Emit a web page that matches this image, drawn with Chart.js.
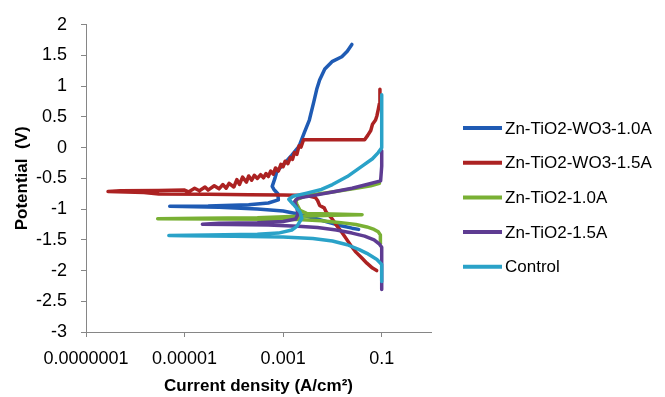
<!DOCTYPE html>
<html>
<head>
<meta charset="utf-8">
<script src="https://cdn.jsdelivr.net/npm/chart.js@4.4.0/dist/chart.umd.min.js"></script>
<style>
  html, body { margin: 0; padding: 0; background: #fff; }
</style>
</head>
<body>
<canvas id="myChart" width="665" height="397"></canvas>
<script>
const seriesNames = ['Zn-TiO2-WO3-1.0A', 'Zn-TiO2-WO3-1.5A', 'Zn-TiO2-1.0A', 'Zn-TiO2-1.5A', 'Control']
const seriesColors = ['#1f5bb4', '#ac2222', '#79b034', '#5e3c92', '#2aa2c8']

// current density (A/cm2) and potential (V) for each sample
const wo3_10Current = [0.034, 0.025, 0.015, 0.008, 0.004, 0.002, 0.001, 0.0003, 0.00005, 0.000005, 0.00003, 0.0002, 0.0005, 0.0008, 0.00078, 0.00065, 0.0006, 0.00068, 0.00075, 0.001, 0.0015, 0.0021, 0.0027, 0.0034, 0.0042, 0.0048, 0.0055, 0.007, 0.0098, 0.0155, 0.02, 0.0248]
const wo3_10Potential = [-1.33, -1.31, -1.27, -1.21, -1.14, -1.08, -1.03, -1.0, -0.97, -0.955, -0.95, -0.93, -0.9, -0.85, -0.75, -0.68, -0.63, -0.5, -0.38, -0.28, -0.12, 0.02, 0.25, 0.45, 0.75, 0.95, 1.1, 1.28, 1.40, 1.48, 1.57, 1.68]

const wo3_15Current = [0.079, 0.065, 0.05, 0.04, 0.03, 0.024, 0.019, 0.015, 0.012, 0.0095, 0.0075, 0.0068, 0.0055, 0.005, 0.0045, 0.003, 0.001, 0.0002, 0.00003, 0.000003, 0.0000015, 0.00000028,
  0.0000005, 0.000003,
  0.00001, 0.000012, 0.000016, 0.00002, 0.000026, 0.00003, 0.00004, 0.00005, 0.00006, 0.00007, 0.00008, 0.0001, 0.000115, 0.00013, 0.00015, 0.00018, 0.0002, 0.00023, 0.00026, 0.0003,
  0.00035, 0.0004, 0.00045, 0.0005, 0.00056, 0.00063, 0.0007, 0.0008, 0.0009, 0.001, 0.0011, 0.00125, 0.0014, 0.00155, 0.0017, 0.0019, 0.0021, 0.0023, 0.0026,
  0.01, 0.045, 0.052, 0.06, 0.065, 0.075, 0.08, 0.085, 0.09, 0.092]
const wo3_15Potential = [-2.0, -1.96, -1.88, -1.8, -1.7, -1.6, -1.48, -1.36, -1.26, -1.14, -1.05, -0.98, -0.94, -0.86, -0.81, -0.78, -0.77, -0.765, -0.76, -0.755, -0.73, -0.715,
  -0.70, -0.695,
  -0.69, -0.72, -0.66, -0.70, -0.64, -0.69, -0.62, -0.67, -0.60, -0.66, -0.58, -0.64, -0.52, -0.60, -0.48, -0.56, -0.46, -0.53, -0.45, -0.50,
  -0.44, -0.49, -0.42, -0.47, -0.38, -0.43, -0.33, -0.38, -0.27, -0.31, -0.22, -0.26, -0.16, -0.19, -0.08, -0.11, 0.03, 0.01, 0.13,
  0.13, 0.13, 0.20, 0.28, 0.38, 0.45, 0.52, 0.62, 0.72, 0.95]

const tio2_10Current = [0.095, 0.094, 0.085, 0.07, 0.05, 0.03, 0.015, 0.006, 0.002, 0.0005, 0.00005, 0.00000285, 0.00002, 0.0003, 0.0015, 0.01, 0.04, 0.01, 0.003, 0.0022, 0.0019, 0.0018, 0.003, 0.01, 0.03, 0.06, 0.09]
const tio2_10Potential = [-1.55, -1.42, -1.37, -1.33, -1.29, -1.25, -1.22, -1.19, -1.17, -1.165, -1.16, -1.155, -1.15, -1.14, -1.12, -1.10, -1.09, -1.08, -1.07, -1.02, -0.92, -0.85, -0.78, -0.72, -0.66, -0.62, -0.58]

const tio2_15Current = [0.1, 0.1, 0.09, 0.07, 0.045, 0.025, 0.012, 0.005, 0.002, 0.0005, 0.00008, 0.000023, 0.00005, 0.0003, 0.001, 0.0018, 0.002, 0.0019, 0.0017, 0.002, 0.004, 0.01, 0.025, 0.05, 0.095, 0.1, 0.1]
const tio2_15Potential = [-2.31, -1.62, -1.57, -1.5, -1.44, -1.39, -1.34, -1.30, -1.28, -1.26, -1.25, -1.245, -1.23, -1.22, -1.2, -1.16, -1.08, -0.98, -0.88, -0.82, -0.78, -0.72, -0.66, -0.6, -0.54, -0.3, -0.05]

const controlCurrent = [0.1, 0.1, 0.08, 0.05, 0.035, 0.02, 0.01, 0.004, 0.001, 0.0001, 0.00001, 0.0000048, 0.00003, 0.0003, 0.0008, 0.0015, 0.0019, 0.0024, 0.0022, 0.0016, 0.0013, 0.0016, 0.003, 0.006, 0.01, 0.02, 0.04, 0.065, 0.085, 0.1, 0.1]
const controlPotential = [-2.18, -1.9, -1.82, -1.72, -1.66, -1.58, -1.52, -1.48, -1.455, -1.44, -1.435, -1.43, -1.42, -1.41, -1.39, -1.34, -1.28, -1.15, -1.05, -0.92, -0.84, -0.79, -0.74, -0.68, -0.6, -0.47, -0.3, -0.18, -0.08, 0.0, 0.86]

const xTickValues = [0.0000001, 0.00001, 0.001, 0.1]
const xTickLabels = ['0.0000001', '0.00001', '0.001', '0.1']

const currents = [wo3_10Current, wo3_15Current, tio2_10Current, tio2_15Current, controlCurrent]
const potentials = [wo3_10Potential, wo3_15Potential, tio2_10Potential, tio2_15Potential, controlPotential]

const fontFamily = "'Liberation Sans Narrow', 'Liberation Sans', Arial, sans-serif"
const axisGrey = '#868686'

// legend drawn at the right, like the excel one
const sideLegend = {
    id: 'sideLegend',
    afterDraw(chart) {
        const ctx = chart.ctx
        ctx.save()
        chart.data.datasets.forEach((ds, i) => {
            const y = 128 + i * 34.7
            ctx.strokeStyle = ds.borderColor
            ctx.lineWidth = 4
            ctx.beginPath()
            ctx.moveTo(463, y)
            ctx.lineTo(502, y)
            ctx.stroke()
            ctx.fillStyle = '#000'
            ctx.font = '17px ' + fontFamily
            ctx.textBaseline = 'middle'
            ctx.fillText(ds.label, 505, y + 1)
        })
        ctx.restore()
    }
}

const datasets = seriesNames.map((name, i) => ({
    label: name,
    data: currents[i].map((c, j) => ({ x: c, y: potentials[i][j] })),
    borderColor: seriesColors[i],
    backgroundColor: seriesColors[i],
    borderWidth: 3.5,
    pointRadius: 0,
    showLine: true,
    tension: 0,
    borderJoinStyle: 'round',
    borderCapStyle: 'round',
    order: seriesNames.length - i
}))

new Chart(document.getElementById('myChart'), {
    type: 'scatter',
    data: { datasets },
    options: {
        responsive: false,
        animation: false,
        layout: { padding: { top: 15, right: 234, left: 0, bottom: 0 } },
        plugins: {
            legend: { display: false },
            tooltip: { enabled: false }
        },
        scales: {
            x: {
                type: 'logarithmic',
                min: 0.0000001,
                max: 1,
                afterBuildTicks: scale => {
                    scale.ticks = xTickValues.map(v => ({ value: v }))
                },
                afterFit: scale => { scale.height = 65 },
                border: { color: axisGrey, width: 1 },
                grid: { drawOnChartArea: false, color: axisGrey, tickLength: 5 },
                ticks: {
                    autoSkip: false,
                    maxRotation: 0,
                    padding: 11,
                    color: '#000',
                    font: { family: fontFamily, size: 18 },
                    callback: (v, i) => xTickLabels[i]
                },
                title: {
                    display: true,
                    text: 'Current density (A/cm²)',
                    color: '#000',
                    font: { family: fontFamily, size: 17, weight: 'bold' },
                    padding: { top: 2, bottom: 0 }
                }
            },
            y: {
                min: -3,
                max: 2,
                afterFit: scale => { scale.width = 86 },
                border: { color: axisGrey, width: 1 },
                grid: { drawOnChartArea: false, color: axisGrey, tickLength: 5 },
                ticks: {
                    stepSize: 0.5,
                    padding: 14,
                    color: '#000',
                    font: { family: fontFamily, size: 18 },
                    callback: v => String(v)
                },
                title: {
                    display: true,
                    text: 'Potential  (V)',
                    color: '#000',
                    font: { family: fontFamily, size: 17, weight: 'bold' },
                    padding: { top: 12, bottom: 0 }
                }
            }
        }
    },
    plugins: [sideLegend]
});
</script>
</body>
</html>
